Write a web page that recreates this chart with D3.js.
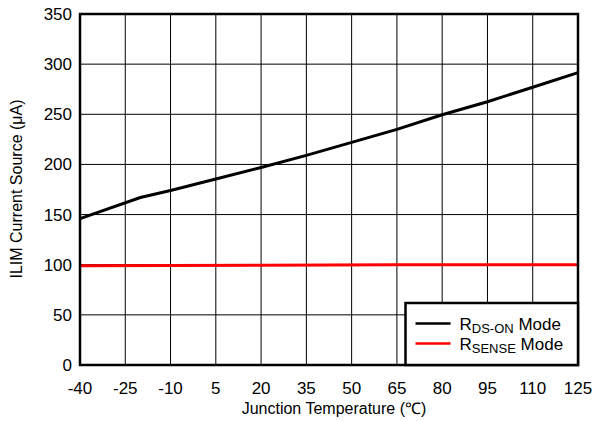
<!DOCTYPE html>
<html>
<head>
<meta charset="utf-8">
<script src="https://cdn.jsdelivr.net/npm/d3@7"></script>
<style>
  body { margin: 0; background: #fff; }
  svg { font-family: "Liberation Sans", Arial, sans-serif; }
</style>
</head>
<body>
<svg id="chart" width="593" height="421"></svg>
<script>
// values
var xTicks = [-40, -25, -10, 5, 20, 35, 50, 65, 80, 95, 110, 125];
var yTicks = [0, 50, 100, 150, 200, 250, 300, 350];

var rdsTemp = [-40, -20, -10, 5, 20, 35, 50, 65, 80, 95, 110, 125];
var rdsVal = [146, 167, 174, 185.5, 197, 209, 222, 235, 249.5, 262.5, 277, 291.5];

var senseTemp = [-40, 20, 65, 125];
var senseVal = [99, 99.5, 100, 100];

var svg = d3.select('#chart'),
  margin = { top: 14, right: 15, bottom: 56, left: 80 },
  width = +svg.attr('width'),
  height = +svg.attr('height');

var x = d3.scaleLinear().domain([-40, 125]).range([margin.left, width - margin.right]);
var y = d3.scaleLinear().domain([0, 350]).range([height - margin.bottom, margin.top]);

// grid
svg.append('g')
  .selectAll('line')
  .data(xTicks)
  .enter()
  .append('line')
  .attr('x1', function(d) { return x(d); })
  .attr('x2', function(d) { return x(d); })
  .attr('y1', y(0))
  .attr('y2', y(350))
  .attr('stroke', '#000')
  .attr('stroke-width', 1);

svg.append('g')
  .selectAll('line')
  .data(yTicks)
  .enter()
  .append('line')
  .attr('x1', x(-40))
  .attr('x2', x(125))
  .attr('y1', function(d) { return y(d); })
  .attr('y2', function(d) { return y(d); })
  .attr('stroke', '#000')
  .attr('stroke-width', 1);

// tick labels
svg.append('g')
  .selectAll('text')
  .data(yTicks)
  .enter()
  .append('text')
  .attr('x', margin.left - 8)
  .attr('y', function(d) { return y(d); })
  .attr('dy', '0.35em')
  .attr('text-anchor', 'end')
  .attr('font-size', 17)
  .text(function(d) { return d; });

svg.append('g')
  .selectAll('text')
  .data(xTicks)
  .enter()
  .append('text')
  .attr('x', function(d) { return x(d); })
  .attr('y', y(0) + 29)
  .attr('text-anchor', 'middle')
  .attr('font-size', 17)
  .text(function(d) { return d; });

// axis titles
svg.append('text')
  .attr('x', (x(-40) + x(125)) / 2 + 5)
  .attr('y', 414)
  .attr('text-anchor', 'middle')
  .attr('font-size', 16)
  .text('Junction Temperature (\u2103)');

svg.append('text')
  .attr('transform', 'rotate(-90)')
  .attr('x', -189)
  .attr('y', 22)
  .attr('text-anchor', 'middle')
  .attr('font-size', 16)
  .text('ILIM Current Source (\u03bcA)');

// series
var line = d3.line()
  .x(function(d) { return x(d[0]); })
  .y(function(d) { return y(d[1]); });

svg.append('path')
  .datum(d3.zip(senseTemp, senseVal))
  .attr('fill', 'none')
  .attr('stroke', '#ff0000')
  .attr('stroke-width', 3)
  .attr('d', line);

svg.append('path')
  .datum(d3.zip(rdsTemp, rdsVal))
  .attr('fill', 'none')
  .attr('stroke', '#000')
  .attr('stroke-width', 3)
  .attr('d', line);

// plot frame
svg.append('rect')
  .attr('x', x(-40))
  .attr('y', y(350))
  .attr('width', x(125) - x(-40))
  .attr('height', y(0) - y(350))
  .attr('fill', 'none')
  .attr('stroke', '#000')
  .attr('stroke-width', 2.5);

// legend
var lg = svg.append('g').attr('transform', 'translate(' + 405.5 + ',' + 303 + ')');
lg.append('rect')
  .attr('width', x(125) - 405.5)
  .attr('height', y(0) - 303)
  .attr('fill', '#fff')
  .attr('stroke', '#000')
  .attr('stroke-width', 2.5);

var legendItems = [
  { main: 'R', sub: 'DS-ON', rest: ' Mode', color: '#000' },
  { main: 'R', sub: 'SENSE', rest: ' Mode', color: '#ff0000' }
];

legendItems.forEach(function(d, i) {
  var yy = 20.5 + i * 20;
  lg.append('line')
    .attr('x1', 10)
    .attr('x2', 45)
    .attr('y1', yy)
    .attr('y2', yy)
    .attr('stroke', d.color)
    .attr('stroke-width', 2.5);
  var t = lg.append('text')
    .attr('x', 54)
    .attr('y', yy + 6)
    .attr('font-size', 17);
  t.append('tspan').text(d.main);
  t.append('tspan').attr('font-size', 13).attr('dy', 3).text(d.sub);
  t.append('tspan').attr('dy', -3).text(d.rest);
});
</script>
</body>
</html>
